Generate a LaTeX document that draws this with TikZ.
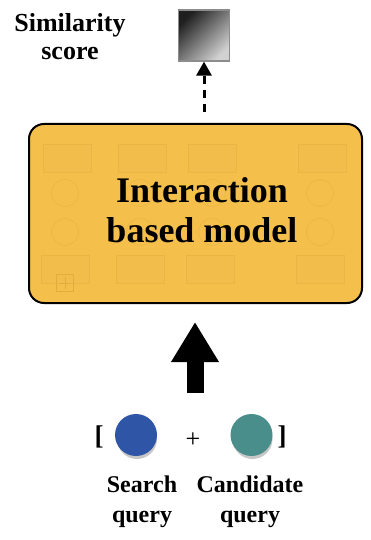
\documentclass[tikz,border=0pt]{standalone}
\usepackage{fontspec}
\setmainfont{Liberation Serif}
\usetikzlibrary{arrows.meta}

\definecolor{boxyellow}{HTML}{F4BF4B}
\definecolor{qblue}{HTML}{2F55A6}
\definecolor{qteal}{HTML}{4A8E8B}
\definecolor{ghost}{HTML}{E2AC3E}

\tikzset{
  label/.style={font=\bfseries\fontsize{24}{30}\selectfont, align=center, inner sep=0pt},
  toplabel/.style={font=\bfseries\fontsize{26}{28}\selectfont, align=center, inner sep=0pt},
  modeltext/.style={font=\bfseries\fontsize{36}{40}\selectfont, align=center, inner sep=0pt},
  modelbox/.style={draw=black, line width=2pt, fill=boxyellow, rounded corners=15pt,
    minimum width=333pt, minimum height=179pt, inner sep=0pt},
  ghostrect/.style={draw=ghost, draw opacity=0.45, line width=0.6pt, fill=ghost, fill opacity=0.06,
    minimum width=48pt, minimum height=28pt, inner sep=0pt},
  ghostcirc/.style={draw=ghost, draw opacity=0.45, line width=0.6pt, circle, minimum size=27pt, inner sep=0pt},
  query/.style={circle, minimum size=42pt, inner sep=0pt},
  qshadow/.style={circle, minimum size=40pt, inner sep=0pt, fill=black, opacity=0.22},
  sym/.style={font=\bfseries\fontsize{27}{28}\selectfont, inner sep=0pt},
}

\begin{document}
\begin{tikzpicture}[x=1pt, y=-1pt]
  \useasboundingbox (0,0) rectangle (371,540);

  % output score with its label
  \node[toplabel] (simlabel) at (70,37) {Similarity\\score};
  \node[draw=black!45, line width=1.2pt, minimum size=51pt, inner sep=0pt,
        shading=axis, top color=black!88, bottom color=black!18, shading angle=45]
        (score) at (204,35.5) {};

  % the model
  \node[modelbox] (model) at (195.5,213.5) {};

  % faint internal layout of the model
  \foreach \x/\n in {67/a, 142/b, 212/c, 322/d} {
    \node[ghostrect] (gt\n) at (\x,158) {};
    \node[ghostrect] (gb\n) at (\x-2,269) {};
  }
  \foreach \x/\n in {65/a, 140/b, 212/c, 320/d} {
    \node[ghostcirc] (gc\n) at (\x,193) {};
    \node[ghostcirc] (gd\n) at (\x,232) {};
  }
  \node[draw=ghost, line width=0.7pt, minimum size=17pt, inner sep=0pt] (plusbox) at (65,283) {};
  \draw[ghost, line width=0.7pt] ([yshift=-6pt]plusbox.center) -- ([yshift=6pt]plusbox.center)
        ([xshift=-6pt]plusbox.center) -- ([xshift=6pt]plusbox.center);

  \node[modeltext] (modeltitle) at (202,210) {Interaction\\based model};

  % dashed output arrow
  \coordinate (outfoot) at (204,112);
  \draw[line width=3pt, dash pattern=on 8pt off 6pt,
        -{Triangle[width=15pt, length=14pt]}] (outfoot) -- (score.south);

  % big input arrow
  \coordinate (infoot) at (195,393);
  \coordinate (intip) at (195,322);
  \draw[line width=17pt, -{Triangle[width=45pt, length=40pt]}] (infoot) -- (intip);

  % inputs
  \node[sym] (lbr) at (99,437) {[};
  \node[qshadow] (sqshadow) at (137,439) {};
  \node[query, fill=qblue] (sq) at (136,435) {};
  \node[font=\fontsize{26}{28}\selectfont, inner sep=0pt] (plus) at (193,440) {+};
  \node[qshadow] (cqshadow) at (252.5,439) {};
  \node[query, fill=qteal] (cq) at (251.5,435) {};
  \node[sym] (rbr) at (282,437) {]};

  \node[label] (sqlabel) at (142,501.5) {Search\\query};
  \node[label] (cqlabel) at (250,501.5) {Candidate\\query};
\end{tikzpicture}
\end{document}
